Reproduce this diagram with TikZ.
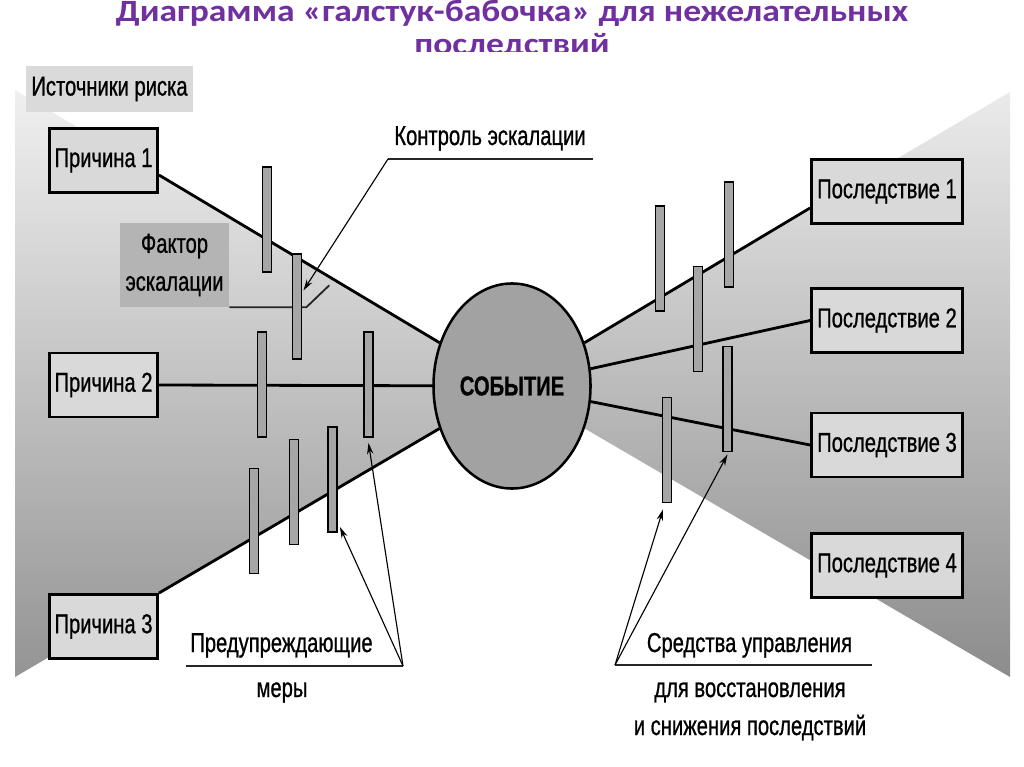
\documentclass[tikz,border=0pt]{standalone}
\usepackage{fontspec}
\usetikzlibrary{arrows.meta,shapes.geometric,calc}
\newfontfamily\narrowf[FakeStretch=0.74,FakeBold=0.8]{Liberation Sans}
\newfontfamily\titlef[FakeStretch=1.15]{Carlito}
\definecolor{ttl}{HTML}{7030A0}
\definecolor{boxgray}{HTML}{D9D9D9}
\definecolor{bargray}{HTML}{A6A6A6}
\definecolor{evgray}{HTML}{A2A2A2}
\definecolor{fkgray}{HTML}{B4B4B4}
\definecolor{srcgray}{HTML}{DADADA}
\newcommand{\txtfont}{\narrowf\fontsize{19.4}{27}\selectfont}
\tikzset{
  cbox/.style={draw=black, line width=2pt, fill=boxgray, minimum width=2.7cm, minimum height=1.6cm, inner sep=0pt, font=\txtfont},
  kbox/.style={cbox, minimum width=3.775cm},
  barr/.style={draw=black, line width=1.3pt, fill=bargray, minimum width=0.225cm, minimum height=2.625cm, inner sep=0pt},
  link/.style={line width=2pt},
  ptr/.style={line width=0.8pt, -{Stealth[length=8pt,width=4.5pt]}},
  uline/.style={line width=1.3pt, draw=black!85},
  lbl/.style={font=\txtfont, inner sep=0pt, anchor=base},
  ttlstyle/.style={font=\titlef\bfseries\fontsize{22}{27}\selectfont, text=ttl, inner sep=0pt, anchor=base}
}
\begin{document}
\begin{tikzpicture}[x=0.025cm,y=-0.025cm]
\useasboundingbox (0,0) rectangle (1024,767);
\fill[white] (0,0) rectangle (1024,767);
% title
\node[ttlstyle] (t1) at (512,22) {Диаграмма «галстук-бабочка» для нежелательных};
\begin{scope}
\clip (0,0) rectangle (1024,52);
\node[ttlstyle] (t2) at (512,55) {последствий};
\end{scope}
% background bow tie
\shade[top color=black!6, bottom color=black!42] (15,90) -- (512,386) -- (15,677) -- cycle;
\shade[top color=black!8, bottom color=black!45] (1010,92) -- (512,386) -- (1010,677) -- cycle;
% labels
\node[fill=srcgray, minimum width=4.175cm, minimum height=1.15cm, inner sep=0pt, font=\txtfont] (src) at (109.5,89) {Источники риска};
\node[fill=fkgray, minimum width=2.725cm, minimum height=2.1cm, inner sep=0pt, font=\txtfont, align=center] (fk) at (174.5,265) {Фактор\\эскалации};
% boxes
\node[cbox] (c1) at (103.5,160.5) {Причина 1};
\node[cbox] (c2) at (103.5,385) {Причина 2};
\node[cbox] (c3) at (103.5,626.5) {Причина 3};
\node[kbox] (k1) at (887,191.5) {Последствие 1};
\node[kbox] (k2) at (887,320.5) {Последствие 2};
\node[kbox] (k3) at (887,445) {Последствие 3};
\node[kbox] (k4) at (887,565.5) {Последствие 4};
% event
\node[ellipse, draw=black, line width=1.8pt, fill=evgray, minimum width=3.925cm, minimum height=5.125cm, inner sep=0pt, font=\txtfont\bfseries] (ev) at (512,386) {СОБЫТИЕ};
% links
\draw[link] ($(c1.east)+(0,14.5)$) -- (ev);
\draw[link] (c2.east) -- (ev);
\draw[link] (c3.north east) -- (ev);
\draw[link] ($(k1.west)+(0,16.5)$) -- (ev);
\draw[link] (k2.west) -- (ev);
\draw[link] (k3.west) -- (ev);
% escalation factor bracket
\draw[uline] (fk.south east) -- ++(77,0) -- ++(23,-22);
% barriers
\node[barr] (b1) at (267,219.5) {};
\node[barr] (b2) at (297,306.5) {};
\node[barr] (b3) at (262,384.5) {};
\node[barr] (b4) at (368.5,384.5) {};
\node[barr] (b5) at (254,521) {};
\node[barr] (b6) at (294,492) {};
\node[barr] (b7) at (332.5,479.5) {};
\node[barr] (r1) at (660,258.5) {};
\node[barr] (r2) at (729,234.5) {};
\node[barr] (r3) at (698,319) {};
\node[barr] (r4) at (727.5,399) {};
\node[barr] (r5) at (667,450) {};
% escalation control
\node[lbl] (kt) at (490,145) {Контроль эскалации};
\coordinate (ku1) at (388,159);
\coordinate (ku2) at (593,159);
\draw[uline] (ku1) -- (ku2);
\draw[ptr] (ku1) -- ($(b2.east)+(1,-16)$);
% preventive measures
\node[lbl] (pm1) at (281.5,652) {Предупреждающие};
\node[lbl] (pm2) at (282,697) {меры};
\coordinate (pu1) at (186,666);
\coordinate (pu2) at (403,666);
\draw[uline] (pu1) -- (pu2);
\draw[ptr] (pu2) -- ($(b7.south east)+(2,-6)$);
\draw[ptr] (pu2) -- ($(b4.south)+(0,5)$);
% recovery measures
\node[lbl] (sr1) at (749.5,652) {Средства управления};
\node[lbl] (sr2) at (750,697) {для восстановления};
\node[lbl] (sr3) at (750,735) {и снижения последствий};
\coordinate (su1) at (615,665);
\coordinate (su2) at (872,665);
\draw[uline] (su1) -- (su2);
\draw[ptr] (su1) -- ($(r5.south)+(-4,6)$);
\draw[ptr] (su1) -- ($(r4.south)+(0,2)$);
\end{tikzpicture}
\end{document}
